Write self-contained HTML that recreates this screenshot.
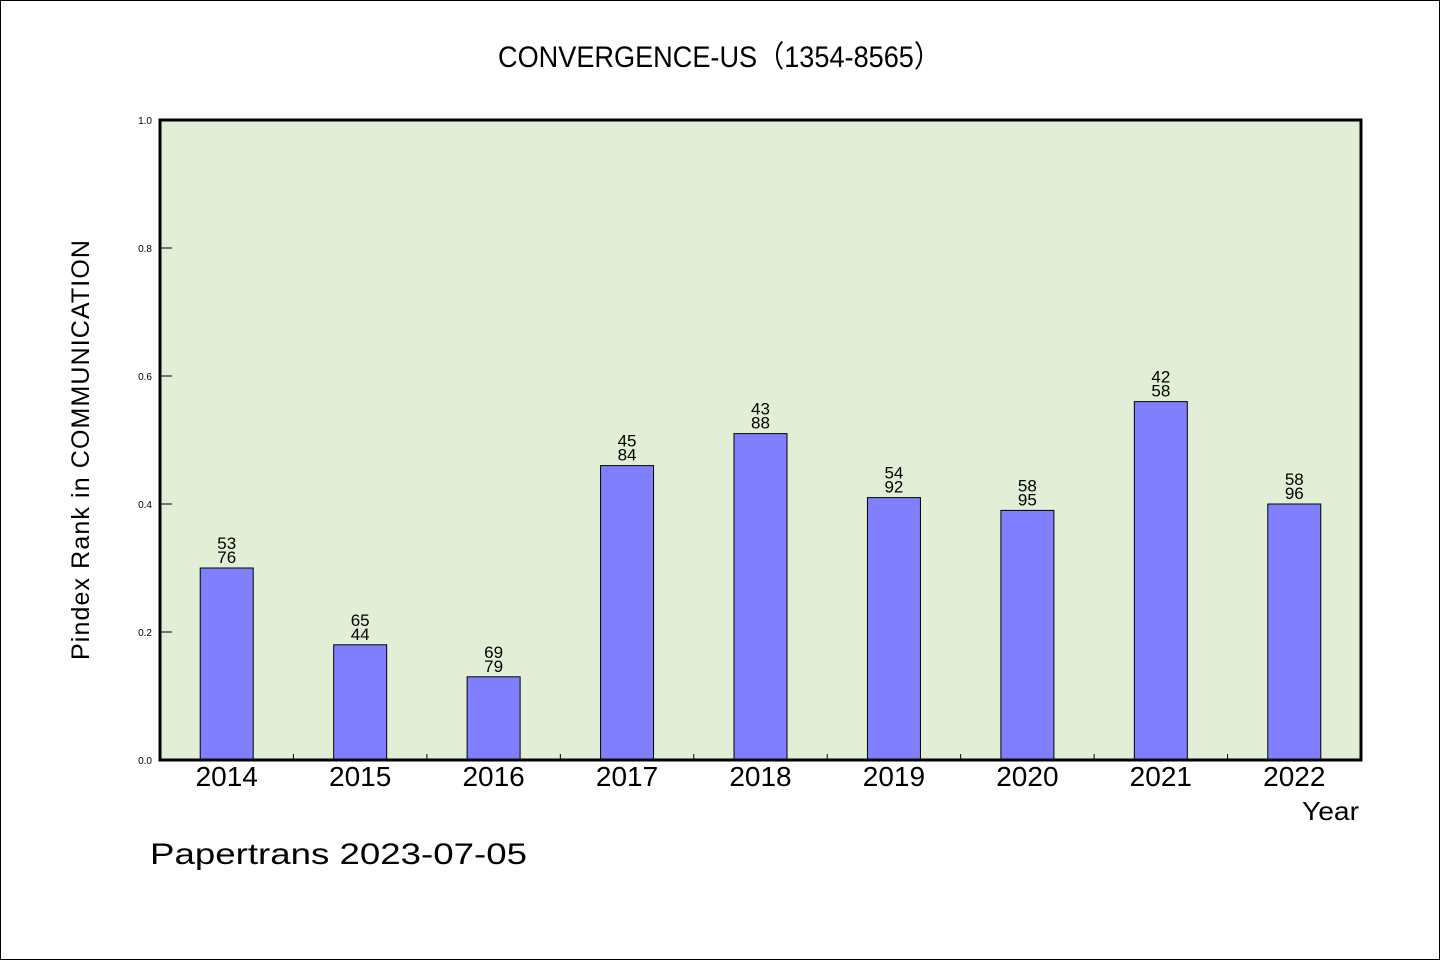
<!DOCTYPE html>
<html><head><meta charset="utf-8"><style>
html,body{margin:0;padding:0;background:#fff}
</style></head><body>
<svg width="1440" height="960" xmlns="http://www.w3.org/2000/svg" style="font-family:'WenQuanYi Zen Hei','Liberation Sans',sans-serif">
<rect x="0.5" y="0.5" width="1439" height="959" fill="#fff" stroke="#000"/>
<text x="498" y="67" font-size="30" textLength="443" lengthAdjust="spacingAndGlyphs">CONVERGENCE-US（1354-8565）</text>
<rect x="160" y="120" width="1201" height="640" fill="#e2efd6"/>
<g id="marks"></g>
<rect x="160" y="120" width="1201" height="640" fill="none" stroke="#000" stroke-width="3"/>
<text transform="translate(89,660) rotate(-90)" font-size="25" textLength="420" lengthAdjust="spacing">Pindex Rank in COMMUNICATION</text>
<text x="1302" y="820" font-size="26" textLength="57" lengthAdjust="spacingAndGlyphs">Year</text>
<text x="150" y="864" font-size="30" textLength="377" lengthAdjust="spacingAndGlyphs">Papertrans 2023-07-05</text>
<script>
const categories=["2014","2015","2016","2017","2018","2019","2020","2021","2022"];
const values=[0.30,0.18,0.13,0.46,0.51,0.41,0.39,0.56,0.40];
const labelTop=["53","65","69","45","43","54","58","42","58"];
const labelBottom=["76","44","79","84","88","92","95","58","96"];
const yTicks=[0,0.2,0.4,0.6,0.8,1.0];
const X0=160,W=1201,Y0=760,H=640;
const step=W/categories.length;
const xc=i=>X0+step*(i+0.5);
const ys=v=>Y0-v*H;
const NS="http://www.w3.org/2000/svg";
const g=document.getElementById('marks');
function mk(t,a){const e=document.createElementNS(NS,t);for(const k in a)e.setAttribute(k,a[k]);g.appendChild(e);return e;}
yTicks.forEach(v=>{
 const l=mk('line',{x1:160,x2:172,y1:ys(v),y2:ys(v),stroke:'#000'});
 
 
 const t=mk('text',{x:152,y:ys(v)+4,'font-size':10,'text-anchor':'end'});
 t.textContent=v.toFixed(1);
 
 
});
categories.forEach((c,i)=>{
 if(i>0){const l=mk('line',{x1:X0+step*i,x2:X0+step*i,y1:Y0,y2:Y0-6,stroke:'#000'});
 
 }
 const b=mk('rect',{x:xc(i)-26.5,y:ys(values[i]),width:53,height:values[i]*H,fill:'#8080ff',stroke:'#000','stroke-width':1});
 
 
 const t1=mk('text',{x:xc(i),y:ys(values[i])-19,'font-size':17,'text-anchor':'middle'});
 t1.textContent=labelTop[i];
 
 
 const t2=mk('text',{x:xc(i),y:ys(values[i])-5,'font-size':17,'text-anchor':'middle'});
 t2.textContent=labelBottom[i];
 
 
 const xl=mk('text',{x:xc(i),y:786,'font-size':28,'text-anchor':'middle'});
 xl.textContent=c;
 
 
});
</script>
</svg>
</body></html>
